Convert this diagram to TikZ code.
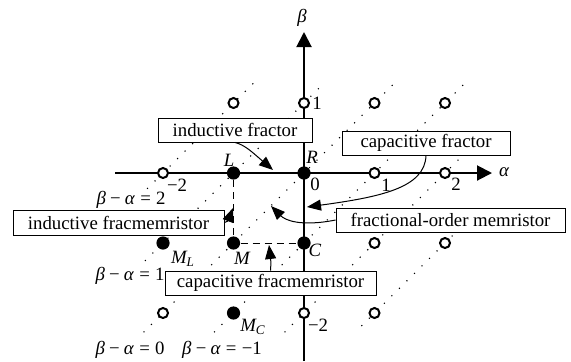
\documentclass[tikz,border=0pt]{standalone}
\usepackage{fontspec}
\setmainfont{Liberation Serif}
\usetikzlibrary{arrows.meta}
\begin{document}
\begin{tikzpicture}[x=0.5pt,y=-0.5pt,
  every node/.style={font=\fontsize{9.4}{11}\selectfont},
  hollow/.style={circle,draw,fill=white,line width=1pt,inner sep=0pt,minimum size=5pt},
  filled/.style={circle,fill=black,inner sep=0pt,minimum size=6.6pt},
  dots/.style={line width=0.8pt,line cap=round,dash pattern=on 0pt off 5.3pt},
  axis/.style={line width=1pt,-{Triangle[length=7.5pt,width=7.5pt]}},
  box/.style={draw,fill=white,line width=0.45pt,inner sep=0pt,minimum height=12pt},
  pointer/.style={line width=0.5pt,-{Triangle[length=7pt,width=5.5pt]}},
  guide/.style={line width=0.5pt,dash pattern=on 3.5pt off 2.5pt},
  lbl/.style={inner sep=0pt}
]
\useasboundingbox (0,0) rectangle (571,361);

% axes
\coordinate (axl) at (115,173);
\coordinate (axr) at (492,173);
\coordinate (ayb) at (304,361);
\coordinate (ayt) at (304,32);

\begin{scope}[shift={(304,173)},x=35.25pt,y=35pt]
  % dotted lines beta-alpha = const
  \draw[dots] (-2.22,-0.22) -- (-0.72,1.28);
  \draw[dots] (-2.25,-1.25) -- (0.3,1.3);
  \draw[dots] (-2.27,-2.27) -- (1.32,1.32);
  \draw[dots] (-1.27,-2.27) -- (2.32,1.32);
  \draw[dots] (-0.27,-2.27) -- (2.22,0.22);
  \draw[dots] (0.82,-2.18) -- (2.2,-0.8);
\end{scope}

\draw[axis] (axl) -- (axr);
\draw[axis] (ayb) -- (ayt);

\begin{scope}[shift={(304,173)},x=35.25pt,y=35pt]
  \node[hollow] (pm2z) at (-2,0) {};
  \node[hollow] (p1z) at (1,0) {};
  \node[hollow] (p2z) at (2,0) {};
  \node[hollow] (pz1) at (0,1) {};
  \node[hollow] (p11) at (1,1) {};
  \node[hollow] (p21) at (2,1) {};
  \node[hollow] (pm11) at (-1,1) {};
  \node[hollow] (p1m1) at (1,-1) {};
  \node[hollow] (p2m1) at (2,-1) {};
  \node[hollow] (pzm2) at (0,-2) {};
  \node[hollow] (p1m2) at (1,-2) {};
  \node[hollow] (pm2m2) at (-2,-2) {};
  \node[filled] (R) at (0,0) {};
  \node[filled] (L) at (-1,0) {};
  \node[filled] (M) at (-1,-1) {};
  \node[filled] (C) at (0,-1) {};
  \node[filled] (ML) at (-2,-1) {};
  \node[filled] (MC) at (-1,-2) {};
\end{scope}

\draw[guide] (L) -- (M) -- (C);

% boxes
\node[box,minimum width=77pt] (indfr) at (235,130) {inductive fractor};
\node[box,minimum width=84pt] (capfr) at (426,143) {capacitive fractor};
\node[box,minimum width=105.5pt,minimum height=12.5pt] (indfm) at (118.5,222.5) {inductive fracmemristor};
\node[box,minimum width=114.5pt] (fom) at (450.5,220) {fractional-order memristor};
\node[box,minimum width=105.5pt] (capfm) at (270.5,283) {capacitive fracmemristor};

% pointers
\coordinate (t1) at (273,170);
\coordinate (t2) at (307,207);
\coordinate (t3) at (271,206);
\coordinate (t4) at (233,208);
\coordinate (t5) at (269,245);
\draw[pointer] (indfr.south) .. controls (245,145) and (252,152) .. (t1);
\draw[pointer] (capfr.south) .. controls (425,188) and (380,197) .. (t2);
\draw[pointer] (fom.west) .. controls (300,227) and (285,220) .. (t3);
\draw[pointer] (indfm.east) .. controls (228,221) .. (t4);
\draw[pointer] (capfm.north) .. controls (271,262) .. (t5);

% labels
\node[lbl] (lL) at (229,160) {\itshape L};
\node[lbl] (lR) at (312,157) {\itshape R};
\node[lbl] (l0) at (315,184) {0};
\node[lbl] (la1) at (386,185) {1};
\node[lbl] (la2) at (456,184) {2};
\node[lbl] (lam2) at (177,185) {−2};
\node[lbl] (lb1) at (317,103) {1};
\node[lbl] (lbm2) at (318,325) {−2};
\node[lbl] (lC) at (315,250) {\itshape C};
\node[lbl] (lM) at (242,258) {\itshape M};
\node[lbl] (lML) at (183,259) {\itshape M\textsubscript{L}};
\node[lbl] (lMC) at (253,327) {\itshape M\textsubscript{C}};
\node[lbl] (alpha) at (504,172) {\itshape α};
\node[lbl] (beta) at (302,18) {\itshape β};
\node[lbl] (e2) at (131,200) {\textit{β}\:−\:\textit{α}\;=\;2};
\node[lbl] (e1) at (130,276) {\textit{β}\:−\:\textit{α}\;=\;1};
\node[lbl] (e0) at (130,350) {\textit{β}\:−\:\textit{α}\;=\;0};
\node[lbl] (em1) at (222,350) {\textit{β}\:−\:\textit{α}\;=\;−1};
\end{tikzpicture}
\end{document}
